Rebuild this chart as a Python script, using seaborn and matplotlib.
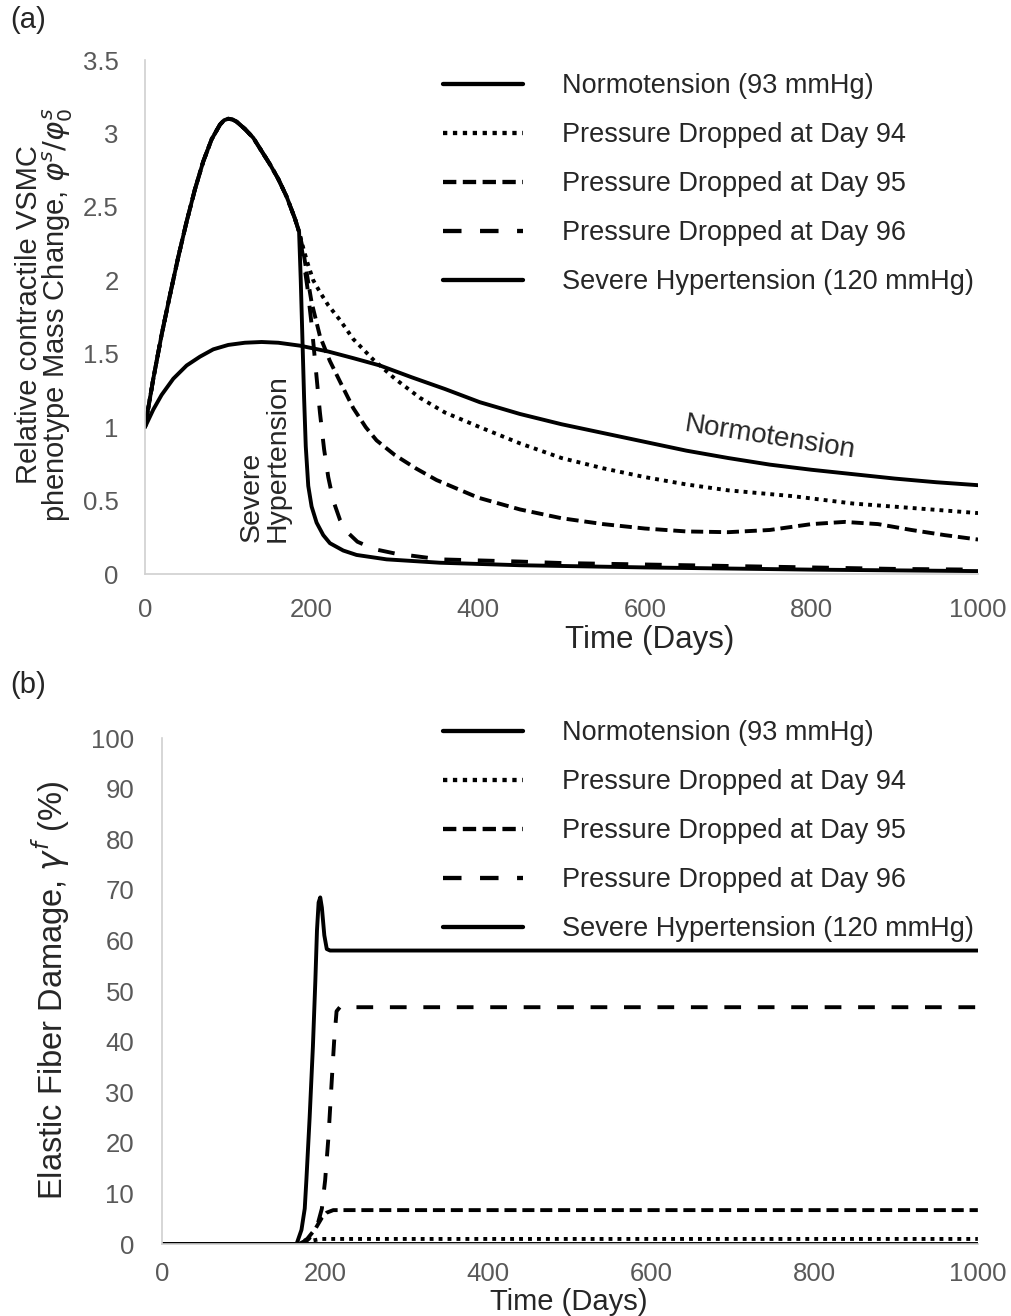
import numpy as np
import pandas as pd
import seaborn as sns
import matplotlib.pyplot as plt
from matplotlib.ticker import FuncFormatter

# ---- panel (a): relative contractile VSMC mass change ----
rise_days = [0, 10, 20, 30, 40, 50, 60, 70, 80, 90, 95, 100, 105, 110, 120,
             130, 140, 150, 160, 170, 180, 185]
rise_vals = [1.0, 1.33, 1.63, 1.90, 2.16, 2.40, 2.62, 2.81, 2.96, 3.06, 3.09,
             3.10, 3.095, 3.08, 3.03, 2.97, 2.88, 2.79, 2.69, 2.57, 2.42, 2.33]

normo_days = [0, 10, 20, 34, 50, 66, 82, 100, 120, 140, 160, 186, 220, 250,
              282, 320, 360, 402, 450, 500, 550, 600, 650, 700, 750, 800, 850,
              900, 950, 1000]
normo_vals = [1.0, 1.12, 1.22, 1.33, 1.42, 1.48, 1.53, 1.56, 1.575, 1.58,
              1.575, 1.555, 1.515, 1.47, 1.42, 1.34, 1.26, 1.17, 1.09, 1.02,
              0.96, 0.9, 0.84, 0.79, 0.745, 0.71, 0.68, 0.65, 0.625, 0.605]

d94_days = [190, 195, 202, 210, 220, 234, 250, 274, 300, 330, 360, 402, 450,
            500, 550, 600, 650, 700, 778, 850, 920, 1000]
d94_vals = [2.22, 2.12, 2.0, 1.92, 1.83, 1.73, 1.6, 1.46, 1.33, 1.2, 1.1, 1.0,
            0.89, 0.79, 0.72, 0.66, 0.61, 0.57, 0.53, 0.48, 0.45, 0.415]

d95_days = [190, 195, 200, 210, 222, 235, 250, 265, 278, 300, 325, 350, 400,
            450, 500, 550, 600, 650, 700, 750, 800, 840, 880, 920, 960, 1000]
d95_vals = [2.2, 2.02, 1.85, 1.62, 1.45, 1.3, 1.13, 1.0, 0.91, 0.81, 0.72, 0.64,
            0.52, 0.44, 0.38, 0.34, 0.31, 0.29, 0.285, 0.3, 0.34, 0.355, 0.34,
            0.3, 0.265, 0.235]

d96_days = [190, 195, 200, 205, 210, 215, 220, 226, 234, 242, 255, 275, 300,
            354, 450, 500, 600, 700, 800, 900, 1000]
d96_vals = [2.15, 1.95, 1.7, 1.4, 1.1, 0.85, 0.66, 0.5, 0.37, 0.29, 0.22, 0.17,
            0.14, 0.1, 0.085, 0.075, 0.065, 0.055, 0.045, 0.035, 0.03]

severe_days = [187, 189, 191, 193, 196, 200, 206, 214, 222, 238, 254, 290, 354,
               450, 600, 800, 1000]
severe_vals = [2.0, 1.6, 1.2, 0.87, 0.6, 0.46, 0.35, 0.265, 0.21, 0.16, 0.13,
               0.1, 0.077, 0.06, 0.045, 0.03, 0.02]

# ---- panel (b): elastic fiber damage (%) ----
dmg_normo_days = [0, 1000]
dmg_normo_vals = [0, 0]
dmg94_days = [0, 168, 176, 185, 195, 1000]
dmg94_vals = [0, 0, 0.2, 0.7, 1.0, 1.0]
dmg95_days = [0, 168, 178, 188, 196, 202, 210, 1000]
dmg95_vals = [0, 0, 1.0, 3.0, 5.2, 6.2, 6.7, 6.7]
dmg96_days = [0, 168, 180, 190, 196, 200, 204, 208, 211, 214, 218, 1000]
dmg96_vals = [0, 0, 1.0, 3.4, 7.0, 12.6, 21, 32, 40, 46.0, 46.8, 46.8]
dmg_sev_days = [0, 165, 171, 175, 177, 181, 185, 188, 190, 192, 194, 196, 199,
                202, 206, 1000]
dmg_sev_vals = [0, 0, 2.8, 7, 12.6, 25, 39, 52, 62, 67.5, 68.5, 66.5, 61, 58.3,
                58.0, 58.0]

labels = ["Normotension (93 mmHg)", "Pressure Dropped at Day 94",
          "Pressure Dropped at Day 95", "Pressure Dropped at Day 96",
          "Severe Hypertension (120 mmHg)"]
styles = ["-", (0, (1, 1.3)), (0, (3.1, 1.5)), (0, (4.3, 4.3)), "-"]

sns.set_style("white")
plt.rcParams['font.family'] = ['Liberation Sans', 'DejaVu Sans']
plt.rcParams['mathtext.fontset'] = 'dejavusans'

fig = plt.figure(figsize=(10.11, 13.16), dpi=100)
ax_a = fig.add_axes([0.1434, 0.5638, 0.824, 0.3906])
ax_b = fig.add_axes([0.1602, 0.0547, 0.807, 0.3845])

LW = 2.8
grey = "#595959"


def draw(ax, x, y, ls):
    sns.lineplot(x=x, y=y, ax=ax, color="black", linewidth=LW, linestyle=ls,
                 estimator=None, sort=False, legend=False)


# panel a: the dropped-pressure curves share the early rise with severe
series_a = [
    (normo_days, normo_vals),
    (rise_days + d94_days, rise_vals + d94_vals),
    (rise_days + d95_days, rise_vals + d95_vals),
    (rise_days + d96_days, rise_vals + d96_vals),
    (rise_days + severe_days, rise_vals + severe_vals),
]
series_b = [
    (dmg_normo_days, dmg_normo_vals),
    (dmg94_days, dmg94_vals),
    (dmg95_days, dmg95_vals),
    (dmg96_days, dmg96_vals),
    (dmg_sev_days, dmg_sev_vals),
]

for ax, series, top in [(ax_a, series_a, 73), (ax_b, series_b, 720)]:
    handles = []
    for (x, y), ls, lab in zip(series, styles, labels):
        draw(ax, x, y, ls)
        handles.append(plt.Line2D([], [], color="black", linewidth=LW + 0.3,
                                  linestyle=ls, label=lab))
    ax.set_xlim(0, 1000)
    ax.set_xticks(range(0, 1001, 200))
    for s in ["top", "right"]:
        ax.spines[s].set_visible(False)
    for s in ["left", "bottom"]:
        ax.spines[s].set_color("#d0d0d0")
        ax.spines[s].set_linewidth(1.2)
    ax.tick_params(length=0, labelsize=18.5, labelcolor=grey)
    ax.yaxis.set_major_formatter(FuncFormatter(lambda v, p: f"{v:g}"))
    ax.legend(handles=handles, loc="upper left", frameon=False,
              fontsize=19.5, handlelength=2.95, handletextpad=1.45,
              labelspacing=0.85, borderpad=0, borderaxespad=0,
              bbox_transform=fig.transFigure,
              bbox_to_anchor=(443 / 1011, 1 - top / 1316))

ax_a.set_ylim(0, 3.5)
ax_a.set_yticks(np.arange(0, 3.51, 0.5))
ax_a.tick_params(axis="x", pad=17)
ax_a.tick_params(axis="y", pad=19)
ax_a.set_xlabel("Time (Days)", fontsize=22.5)
ax_a.xaxis.set_label_coords(0.606, -0.1)
ax_a.set_ylabel("Relative contractile VSMC\nphenotype Mass Change, "
                r"$\varphi^s/\varphi_0^s$", fontsize=21, linespacing=0.9)
ax_a.yaxis.set_label_coords(-0.084, 0.505)

ax_b.set_ylim(0, 100)
ax_b.set_yticks(range(0, 101, 10))
ax_b.tick_params(axis="x", pad=13)
ax_b.tick_params(axis="y", pad=20)
ax_b.set_xlabel("Time (Days)", fontsize=21)
ax_b.xaxis.set_label_coords(0.499, -0.0865)
ax_b.set_ylabel(r"Elastic Fiber Damage, $\gamma^f$ (%)", fontsize=23.5)
ax_b.yaxis.set_label_coords(-0.11, 0.502)

ax_a.text(750, 0.93, "Normotension", fontsize=20, rotation=-9,
          ha="center", va="center")
ax_a.text(144, 0.79, "Severe\nHypertension", fontsize=20.5, rotation=90,
          ha="center", va="center", multialignment="left", linespacing=1.0)

fig.text(10 / 1011, 1 - 20 / 1316, "(a)", fontsize=21, va="center")
fig.text(10 / 1011, 1 - 685 / 1316, "(b)", fontsize=21, va="center")

fig.savefig("out.png", dpi=100)
